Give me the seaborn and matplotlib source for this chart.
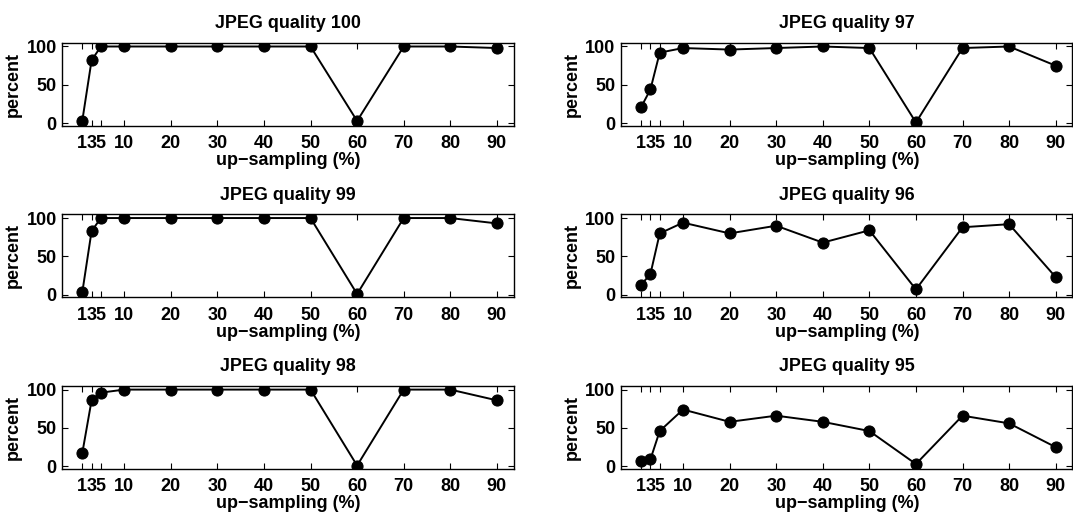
import matplotlib
matplotlib.use("Agg")
import matplotlib.pyplot as plt
import pandas as pd
import seaborn as sns

# %% DATA
upsampling = [1, 3, 5, 10, 20, 30, 40, 50, 60, 70, 80, 90]
tick_labels = ["1", "3", "5", "10", "20", "30", "40", "50", "60", "70", "80", "90"]

q100 = [3, 82, 100, 100, 100, 100, 100, 100, 3, 100, 100, 98]
q99 = [3, 83, 100, 100, 100, 100, 100, 100, 1, 100, 100, 93]
q98 = [17, 86, 96, 100, 100, 100, 100, 100, 1, 100, 100, 86]
q97 = [21, 44, 92, 98, 96, 98, 100, 98, 1, 98, 100, 75]
q96 = [13, 27, 80, 94, 80, 90, 68, 84, 7, 88, 92, 23]
q95 = [7, 9, 46, 74, 58, 66, 58, 46, 3, 66, 56, 25]

# left column top to bottom, then right column
panels = [
    ("JPEG quality 100", q100),
    ("JPEG quality 97", q97),
    ("JPEG quality 99", q99),
    ("JPEG quality 96", q96),
    ("JPEG quality 98", q98),
    ("JPEG quality 95", q95),
]

# %% STYLE
sns.set_style("ticks")
plt.rcParams["font.family"] = ["Liberation Sans", "DejaVu Sans"]
plt.rcParams["font.weight"] = "bold"
plt.rcParams["axes.labelweight"] = "bold"
plt.rcParams["axes.titleweight"] = "bold"
plt.rcParams["text.color"] = "black"
plt.rcParams["axes.labelcolor"] = "black"
plt.rcParams["xtick.color"] = "black"
plt.rcParams["ytick.color"] = "black"
plt.rcParams["axes.edgecolor"] = "black"

# %% PLOT
fig, axes = plt.subplots(3, 2, figsize=(10.73, 5.14), dpi=100)
fig.subplots_adjust(left=0.058, right=0.9995, top=0.917, bottom=0.0875,
                    wspace=0.238, hspace=1.06)

for ax, (title, values) in zip(axes.flat, panels):
    df = pd.DataFrame({"upsampling": upsampling, "percent": values})
    sns.lineplot(data=df, x="upsampling", y="percent", ax=ax, color="black",
                 marker="o", markersize=8, linewidth=1.4,
                 markeredgecolor="black")
    ax.set_xlim(-3.3, 93.6)
    ax.set_ylim(-3.5, 105)
    ax.set_xticks(upsampling)
    ax.set_xticklabels(tick_labels)
    ax.set_yticks([0, 50, 100])
    ax.tick_params(direction="in", top=True, right=True, length=4,
                   width=0.8, labelsize=13, colors="black")
    ax.tick_params(axis="x", pad=6.5)
    ax.tick_params(axis="y", pad=4)
    for spine in ax.spines.values():
        spine.set_linewidth(1.0)
        spine.set_color("black")
    ax.set_title(title, fontsize=12.9, pad=10.5, color="black")
    ax.set_xlabel("up\u2212sampling (%)", fontsize=13, labelpad=0)
    ax.set_ylabel("percent", fontsize=13, labelpad=3)

fig.savefig("out.png", dpi=100)
